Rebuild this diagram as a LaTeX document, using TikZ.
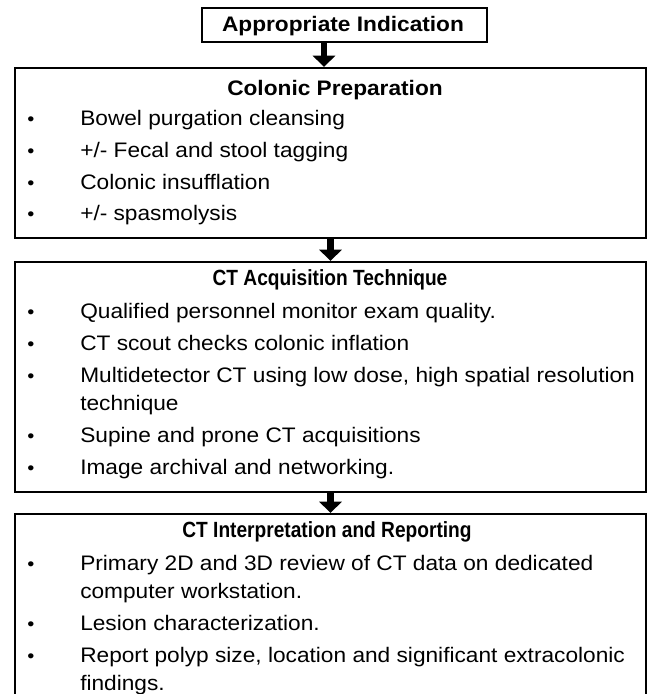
\documentclass[tikz,border=0pt]{standalone}
\usepackage{fontspec}
\setmainfont{Liberation Sans}[FakeStretch=1.08]
\newfontfamily\narrowbf{Liberation Sans Bold}[FakeStretch=0.87]
\usetikzlibrary{arrows.meta}
\begin{document}
\begin{tikzpicture}[x=0.75pt,y=-0.75pt,
  box/.style={draw=black,line width=1.5pt,rectangle,inner sep=0pt,anchor=north west},
  flow/.style={line width=5pt,-{Triangle[width=16.5pt,length=8.5pt]}},
  itm/.style={anchor=base west,inner sep=0pt,font=\fontsize{15.75pt}{18pt}\selectfont},
  bul/.style={anchor=base,inner sep=0pt,font=\fontsize{14pt}{17pt}\selectfont},
  ttl/.style={anchor=base,inner sep=0pt,font=\bfseries\fontsize{15.75pt}{18pt}\selectfont},
  ttls/.style={anchor=base,inner sep=0pt,font=\narrowbf\fontsize{16.5pt}{19pt}\selectfont}]
\useasboundingbox (0,0) rectangle (651,694);
\clip (0,0) rectangle (651,694);
% boxes
\node[box,minimum width=213.75pt,minimum height=25.5pt] (b1) at (201,7) {};
\node[box,minimum width=473.25pt,minimum height=127.5pt] (b2) at (14,67) {};
\node[box,minimum width=473.25pt,minimum height=172.5pt] (b3) at (14,261) {};
\node[box,minimum width=473.25pt,minimum height=155.25pt] (b4) at (14,513) {};
% arrows
\coordinate (ax1) at (324,0);
\draw[flow] (b1.south -| ax1) -- (b2.north -| ax1);
\draw[flow] (b2.south) -- (b3.north);
\draw[flow] (b3.south) -- (b4.north);
% top
\node[ttl] (t1) at (343,31) {Appropriate Indication};
% box 2
\node[ttl] (t2) at (335,95) {Colonic Preparation};
\node[bul] (p1) at (31,125) {•};
\node[itm] (i1) at (80,125) {Bowel purgation cleansing};
\node[bul] (p2) at (31,157) {•};
\node[itm] (i2) at (80,157) {+/- Fecal and stool tagging};
\node[bul] (p3) at (31,189) {•};
\node[itm] (i3) at (80,189) {Colonic insufflation};
\node[bul] (p4) at (31,220) {•};
\node[itm] (i4) at (80,220) {+/- spasmolysis};
% box 3
\node[ttls] (t3) at (330,285) {CT Acquisition Technique};
\node[bul] (q1) at (31,318) {•};
\node[itm] (j1) at (80,318) {Qualified personnel monitor exam quality.};
\node[bul] (q2) at (31,350) {•};
\node[itm] (j2) at (80,350) {CT scout checks colonic inflation};
\node[bul] (q3) at (31,382) {•};
\node[itm] (j3) at (80,382) {Multidetector CT using low dose, high spatial resolution};
\node[itm] (j3b) at (80,410) {technique};
\node[bul] (q4) at (31,442) {•};
\node[itm] (j4) at (80,442) {Supine and prone CT acquisitions};
\node[bul] (q5) at (31,474) {•};
\node[itm] (j5) at (80,474) {Image archival and networking.};
% box 4
\node[ttls] (t4) at (327,537) {CT Interpretation and Reporting};
\node[bul] (r1) at (31,570) {•};
\node[itm] (k1) at (80,570) {Primary 2D and 3D review of CT data on dedicated};
\node[itm] (k1b) at (80,598) {computer workstation.};
\node[bul] (r2) at (31,630) {•};
\node[itm] (k2) at (80,630) {Lesion characterization.};
\node[bul] (r3) at (31,662) {•};
\node[itm] (k3) at (80,662) {Report polyp size, location and significant extracolonic};
\node[itm] (k3b) at (80,690) {findings.};
\end{tikzpicture}
\end{document}
